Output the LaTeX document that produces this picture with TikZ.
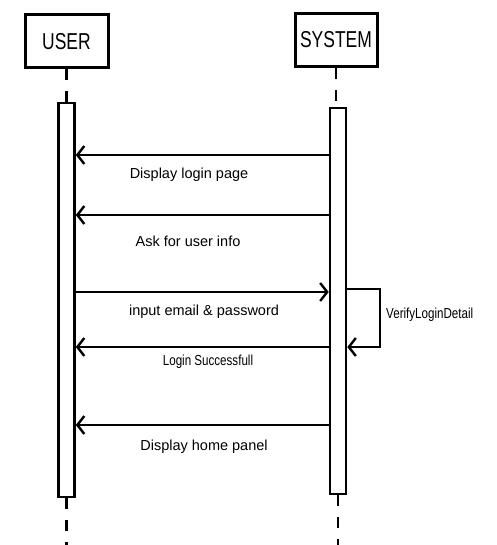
\documentclass[tikz,border=0pt]{standalone}
\usepackage{fontspec}
\setmainfont{Liberation Sans}
\usetikzlibrary{arrows.meta}
\begin{document}
\begin{tikzpicture}[x=1pt,y=-1pt,
  actor/.style={draw,line width=3pt,inner sep=0pt,minimum height=53pt,font=\fontsize{23}{23}\selectfont},
  actbar/.style={draw,line width=2.6pt,fill=white,inner sep=0pt,minimum width=16pt},
  life/.style={line width=2.6pt,dash pattern=on 11pt off 11pt},
  msg/.style={line width=2.6pt,-{Straight Barb[length=7pt,width=18pt,line width=2.4pt]}},
  lbl/.style={font=\fontsize{14.5}{15}\selectfont,inner sep=0pt}]
\useasboundingbox (0,0) rectangle (496,545);
\node[actor,minimum width=83pt] (userbox) at (66.5,41.5) {\scalebox{0.76}[1]{USER}};
\node[actor,minimum width=82pt] (sysbox) at (336,40) {\scalebox{0.76}[1]{SYSTEM}};
\node[actbar,minimum height=394pt] (userbar) at (66.5,300) {};
\node[actbar,minimum height=386pt] (sysbar) at (338,301) {};
\coordinate (userend) at (66.5,545);
\coordinate (sysend) at (338,545);
\draw[life] (userbox.south) -- (userbar.north);
\draw[life] (userbar.south) -- (userend);
\draw[life] (sysbox.south) -- (sysbar.north-|sysbox.south);
\draw[life] (sysbar.south) -- (sysend);
% messages
\foreach \n/\y in {a/155,b/215,c/292,d/347,e/425}{
  \coordinate (u\n) at (userbar.east|-0,\y);
  \coordinate (s\n) at (sysbar.west|-0,\y);
}
\draw[msg] (sa) -- (ua);
\node[lbl] (la) at (189,174.5) {Display login page};
\draw[msg] (sb) -- (ub);
\node[lbl] (lb) at (188,241) {Ask for user info};
\draw[msg] (uc) -- (sc);
\node[lbl] (lc) at (204,312) {input email \& password};
\draw[msg] (sd) -- (ud);
\node[lbl] (ld) at (208,362) {\scalebox{0.8}[1]{Login Successfull}};
\draw[msg] (se) -- (ue);
\node[lbl] (le) at (204,447) {Display home panel};
% self loop
\coordinate (v1) at (sysbar.east|-0,289);
\coordinate (v2) at (sysbar.east|-0,347);
\draw[msg] (v1) -- (380,289) -- (380,347) -- (v2);
\node[lbl,anchor=west] (lv) at (386,315) {\scalebox{0.8}[1]{VerifyLoginDetail}};
\end{tikzpicture}
\end{document}
